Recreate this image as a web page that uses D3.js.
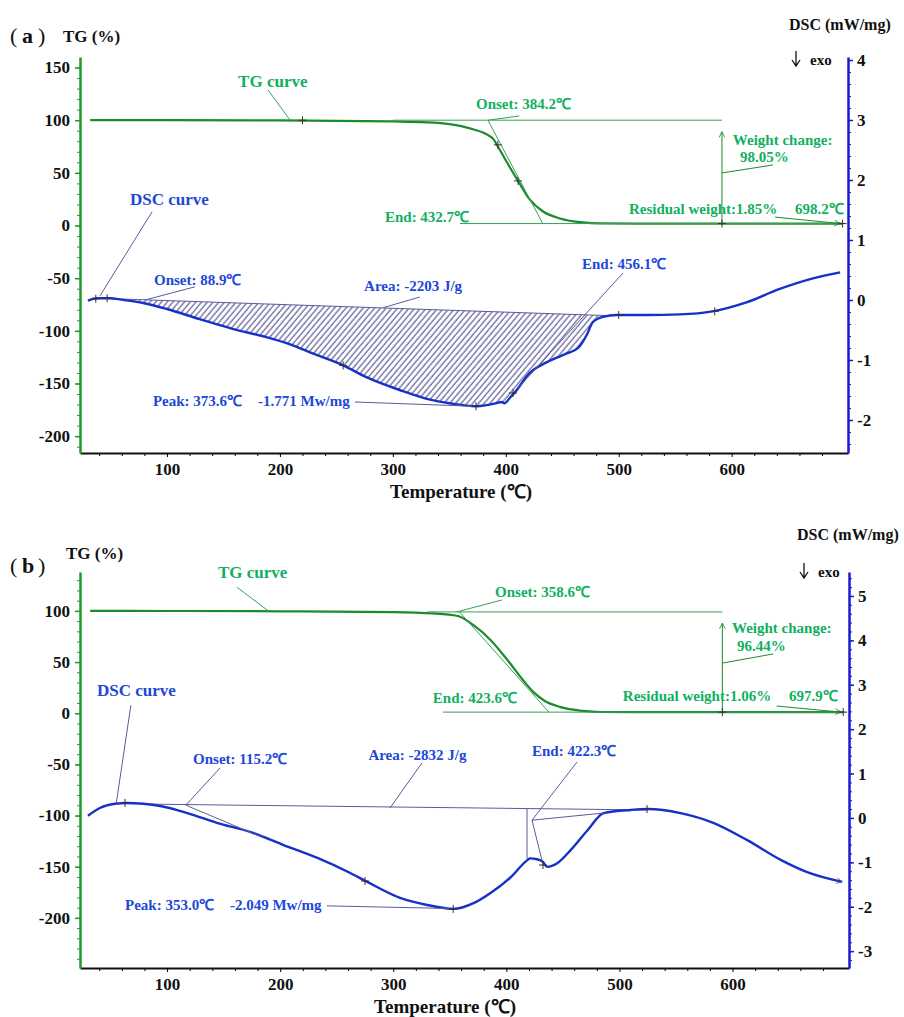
<!DOCTYPE html>
<html>
<head>
<meta charset="utf-8">
<script src="https://cdn.jsdelivr.net/npm/d3@7"></script>
<style>
  body { margin: 0; background: #fff; }
  svg text { font-family: "Liberation Serif", "Times New Roman", serif; font-weight: bold; }
</style>
</head>
<body>
<svg id="chart" width="904" height="1017"></svg>
<script>
// ---- axis ticks ----
var tempDomain = [23, 703];
var tempMajor = [100, 200, 300, 400, 500, 600];
var tgTicksA = [-200, -150, -100, -50, 0, 50, 100, 150];
var tgTicksB = [-200, -150, -100, -50, 0, 50, 100];
var dscTicksA = [-2, -1, 0, 1, 2, 3, 4];
var dscTicksB = [-3, -2, -1, 0, 1, 2, 3, 4, 5];

// ---- (a) TG, % ----
var tgA_temp = [32, 100, 200, 300, 330, 350, 371, 384, 389, 393, 401, 411, 421, 433, 448, 468, 483, 550, 650, 698];
var tgA_wt   = [100, 100, 99.8, 98.8, 98, 96.3, 91.4, 86, 82, 75, 60, 42, 25, 13.3, 6.7, 2.9, 1.95, 1.85, 1.85, 1.85];
// ---- (a) DSC, mW/mg ----
var dscA_temp = [30, 38, 50, 58, 79, 100, 129, 158, 188, 209, 229, 256, 277, 306, 335, 350, 373.6, 392, 396, 399, 404, 408, 421, 436, 454, 464, 472, 477, 486, 498, 525, 554, 583, 613, 642, 672, 696];
var dscA_val  = [-0.01, 0.03, 0.03, 0.01, -0.05, -0.15, -0.32, -0.48, -0.62, -0.74, -0.89, -1.09, -1.29, -1.50, -1.67, -1.72, -1.771, -1.72, -1.70, -1.72, -1.62, -1.54, -1.22, -1.04, -0.89, -0.80, -0.57, -0.37, -0.28, -0.25, -0.25, -0.24, -0.19, -0.04, 0.18, 0.36, 0.46];

// ---- (b) TG, % ----
var tgB_temp = [32, 100, 200, 300, 335, 357, 371, 386, 401, 415, 424, 433, 448, 468, 483, 550, 650, 698];
var tgB_wt   = [100, 99.9, 99.6, 98.8, 97.5, 95, 86, 71.6, 52, 32, 20.6, 12.7, 5.9, 2.2, 1.2, 1.06, 1.06, 1.06];
// ---- (b) DSC, mW/mg ----
var dscB_temp = [30, 41, 54, 65, 79, 94, 118, 144, 174, 203, 233, 262, 277, 306, 330, 353, 371, 386, 404, 418.6, 421, 427, 432, 436, 445, 457, 472, 486, 510, 525, 554, 583, 613, 643, 666, 697];
var dscB_val  = [0.05, 0.23, 0.32, 0.34, 0.32, 0.27, 0.11, -0.11, -0.32, -0.61, -0.90, -1.24, -1.44, -1.80, -1.96, -2.049, -1.92, -1.69, -1.33, -0.95, -0.91, -0.93, -0.98, -1.10, -1.02, -0.72, -0.27, 0.11, 0.18, 0.20, 0.11, -0.11, -0.50, -0.95, -1.22, -1.44];

var GREEN_AXIS = "#1f9a2a", GREEN_LINE = "#1d8a2c", GREEN_TXT = "#10b060", GREEN_THIN = "#3a9e5a";
var BLUE_AXIS = "#1a1ad0", BLUE_LINE = "#1630c8", BLUE_TXT = "#2048d8", BLUE_THIN = "#5a5a9c";

var svg = d3.select("#chart");
svg.append("rect").attr("width", 904).attr("height", 1017).attr("fill", "#fff");
var defs = svg.append("defs");

defs.append("pattern").attr("id", "hatch")
  .attr("patternUnits", "userSpaceOnUse")
  .attr("width", 4.4).attr("height", 10)
  .attr("patternTransform", "rotate(40)")
  .append("line").attr("x1", 1).attr("y1", 0).attr("x2", 1).attr("y2", 10)
  .attr("stroke", "#3c3c82").attr("stroke-width", 1);

function marker(id, color) {
  defs.append("marker").attr("id", id)
    .attr("viewBox", "0 0 10 10").attr("refX", 9).attr("refY", 5)
    .attr("markerWidth", 7).attr("markerHeight", 7)
    .attr("markerUnits", "userSpaceOnUse")
    .attr("orient", "auto")
    .append("path").attr("d", "M1,1 L9,5 L1,9")
    .attr("fill", "none").attr("stroke", color).attr("stroke-width", 1.2);
}
marker("arrG", GREEN_LINE);
marker("arrB", BLUE_THIN);

// plain hyphen minus like the original software
var plain = function(d) { return String(d); };

function seg(g, x1, y1, x2, y2, color, arrow) {
  var l = g.append("line").attr("x1", x1).attr("y1", y1).attr("x2", x2).attr("y2", y2)
    .attr("stroke", color).attr("stroke-width", 1);
  if (arrow) l.attr("marker-end", "url(#" + arrow + ")");
  return l;
}
function label(g, x, y, s, color, size) {
  return g.append("text").attr("x", x).attr("y", y).attr("fill", color)
    .attr("font-size", size || 15).text(s);
}
function cross(g, x, y) {
  g.append("path").attr("d", "M" + (x - 4) + "," + y + "h8M" + x + "," + (y - 4) + "v8")
    .attr("stroke", "#333").attr("stroke-width", 1);
}

function drawPanel(p) {
  var g = svg.append("g");
  var x = d3.scaleLinear().domain(tempDomain).range([80, p.right]);
  var yT = d3.scaleLinear().domain(p.tgDomain).range([p.bottom, p.top]);
  var yD = d3.scaleLinear().domain(p.dscDomain).range([p.bottom, p.top]);

  // x axis
  var minorT = d3.range(40, 701, 20).filter(function(v) { return v % 100 !== 0; });
  g.append("g").attr("transform", "translate(0," + p.bottom + ")")
    .call(d3.axisBottom(x).tickValues(minorT).tickSize(3).tickSizeOuter(0).tickFormat(""))
    .call(function(a) { a.select(".domain").remove(); });
  var xa = g.append("g").attr("transform", "translate(0," + p.bottom + ")")
    .call(d3.axisBottom(x).tickValues(tempMajor).tickSize(4).tickSizeOuter(0).tickPadding(6).tickFormat(plain));
  xa.select(".domain").attr("stroke", "#111").attr("stroke-width", 2.2);
  xa.selectAll("text").attr("font-size", 17).attr("fill", "#111");

  // left TG axis
  var minorTG = d3.range(Math.ceil(p.tgDomain[0] / 10) * 10, p.tgDomain[1], 10);
  g.append("g").attr("transform", "translate(80,0)")
    .call(d3.axisLeft(yT).tickValues(minorTG).tickSize(3).tickSizeOuter(0).tickFormat(""))
    .call(function(a) { a.select(".domain").remove(); a.selectAll("line").attr("stroke", GREEN_AXIS); });
  var la = g.append("g").attr("transform", "translate(80,0)")
    .call(d3.axisLeft(yT).tickValues(p.tgTicks).tickSize(5).tickSizeOuter(0).tickPadding(5).tickFormat(plain));
  la.select(".domain").attr("stroke", GREEN_AXIS).attr("stroke-width", 2.5);
  la.selectAll("line").attr("stroke", GREEN_AXIS).attr("stroke-width", 1.5);
  la.selectAll("text").attr("font-size", 17).attr("fill", "#111");

  // right DSC axis
  var minorD = d3.range(Math.ceil(p.dscDomain[0] * 5), p.dscDomain[1] * 5).map(function(v) { return v / 5; });
  g.append("g").attr("transform", "translate(" + p.right + ",0)")
    .call(d3.axisRight(yD).tickValues(minorD).tickSize(3).tickSizeOuter(0).tickFormat(""))
    .call(function(a) { a.select(".domain").remove(); a.selectAll("line").attr("stroke", BLUE_AXIS); });
  var ra = g.append("g").attr("transform", "translate(" + p.right + ",0)")
    .call(d3.axisRight(yD).tickValues(p.dscTicks).tickSize(5).tickSizeOuter(0).tickPadding(4).tickFormat(plain));
  ra.select(".domain").attr("stroke", BLUE_AXIS).attr("stroke-width", 2.5);
  ra.selectAll("line").attr("stroke", BLUE_AXIS).attr("stroke-width", 1.5);
  ra.selectAll("text").attr("font-size", 17).attr("fill", "#111");

  // titles
  var tag = g.append("text").attr("y", p.tagY).attr("fill", "#111").attr("font-size", 22);
  tag.append("tspan").attr("x", p.tagX).attr("font-weight", "normal").text("(");
  tag.append("tspan").attr("x", p.tagX + 12).text(p.tag);
  tag.append("tspan").attr("x", p.tagX + 28).attr("font-weight", "normal").text(")");
  label(g, p.tgTitleX, p.tgTitleY, "TG (%)", "#111", 17);
  label(g, p.dscTitleX, p.dscTitleY, "DSC (mW/mg)", "#111", 16);
  // "↓ exo" marker: drawn arrow, then the word
  var ax = p.exoX + 6, ay = p.exoY;
  g.append("path")
    .attr("d", "M" + ax + "," + (ay - 14) + "V" + (ay + 1) + "M" + (ax - 4) + "," + (ay - 5) + "L" + ax + "," + (ay + 1) + "L" + (ax + 4) + "," + (ay - 5))
    .attr("fill", "none").attr("stroke", "#111").attr("stroke-width", 1.3);
  label(g, p.exoX + 20, p.exoY, "exo", "#111", 15);
  label(g, p.xTitleX, p.bottom + 45, "Temperature (℃)", "#111", 19).attr("text-anchor", "middle");

  // hatched area (DSC peak area)
  var baseFn = function(T) {
    return p.base[1] + (T - p.base[0]) / (p.base[2] - p.base[0]) * (p.base[3] - p.base[1]);
  };
  var dscPts = d3.zip(p.dscT, p.dscV);
  if (p.hatch) {
    var inner = dscPts.filter(function(d) { return d[0] > p.base[0] && d[0] < p.base[2]; });
    var areaPts = [[p.base[0], p.base[1]]].concat(inner, [[p.base[2], p.base[3]]]);
    g.append("path").datum(areaPts)
      .attr("d", d3.area().x(function(d) { return x(d[0]); })
        .y0(function(d) { return yD(baseFn(d[0])); })
        .y1(function(d) { return yD(d[1]); })
        .curve(d3.curveMonotoneX))
      .attr("fill", "url(#hatch)");
  }
  seg(g, x(p.base[0]), yD(p.base[1]), x(p.base[2]), yD(p.base[3]), BLUE_THIN);

  // curves
  g.append("path").datum(d3.zip(p.tgT, p.tgW))
    .attr("d", d3.line().x(function(d) { return x(d[0]); }).y(function(d) { return yT(d[1]); }).curve(d3.curveMonotoneX))
    .attr("fill", "none").attr("stroke", GREEN_LINE).attr("stroke-width", 2.2);
  var dscPath = g.append("path").datum(dscPts)
    .attr("d", d3.line().x(function(d) { return x(d[0]); }).y(function(d) { return yD(d[1]); }).curve(d3.curveMonotoneX))
    .attr("fill", "none").attr("stroke", BLUE_LINE).attr("stroke-width", 2.4);
  if (p.endArrow) dscPath.attr("marker-end", "url(#arrB)");

  p.annotate(g, x, yT, yD, baseFn);
}

function annotateA(g, x, yT, yD) {
  // TG side
  label(g, x(163), yT(131.5), "TG curve", GREEN_TXT, 17);
  seg(g, x(189.5), yT(128.7), x(209), yT(100), GREEN_THIN);
  cross(g, x(220), yT(100));
  seg(g, x(300), yT(100), x(591.4), yT(100), GREEN_THIN);
  seg(g, x(384.2), yT(100), x(432.7), yT(1.85), GREEN_THIN);
  seg(g, x(359.5), yT(1.85), x(700), yT(1.85), GREEN_THIN);
  label(g, x(373.6), yT(110.6), "Onset: 384.2℃", GREEN_TXT);
  seg(g, x(384.2), yT(100), x(412), yT(104), GREEN_THIN);
  label(g, x(293), yT(3.3), "End: 432.7℃", GREEN_TXT);
  cross(g, x(393), yT(76.6));
  cross(g, x(410.8), yT(42.3));
  seg(g, x(591.4), yT(1.85), x(591.4), yT(89), GREEN_LINE, "arrG");
  label(g, x(601), yT(76.4), "Weight change:", GREEN_TXT);
  label(g, x(607.4), yT(60.3), "98.05%", GREEN_TXT);
  seg(g, x(591.4), yT(49.9), x(636.6), yT(57.5), GREEN_LINE);
  label(g, x(509), yT(10.9), "Residual weight:1.85%", GREEN_TXT);
  label(g, x(656), yT(10.9), "698.2℃", GREEN_TXT);
  seg(g, x(638.4), yT(8), x(696), yT(1.85), GREEN_LINE, "arrG");
  cross(g, x(591.4), yT(1.85));
  cross(g, x(698.2), yT(1.85));

  // DSC side
  label(g, x(67.3), yD(1.58), "DSC curve", BLUE_TXT, 17);
  seg(g, x(86.8), yD(1.47), x(40.7), yD(0.07), BLUE_THIN);
  cross(g, x(37), yD(0.02));
  cross(g, x(47), yD(0.03));
  label(g, x(88.5), yD(0.25), "Onset: 88.9℃", BLUE_TXT);
  seg(g, x(124.8), yD(0.22), x(80.6), yD(0.0), BLUE_THIN);
  label(g, x(274.5), yD(0.15), "Area: -2203 J/g", BLUE_TXT);
  seg(g, x(324), yD(0.05), x(291), yD(-0.13), BLUE_THIN);
  label(g, x(467.5), yD(0.52), "End: 456.1℃", BLUE_TXT);
  seg(g, x(503.8), yD(0.45), x(410.8), yD(-1.47), BLUE_THIN);
  cross(g, x(406.4), yD(-1.55));
  cross(g, x(256), yD(-1.09));
  cross(g, x(373.6), yD(-1.771));
  cross(g, x(500), yD(-0.25));
  cross(g, x(585), yD(-0.19));
  label(g, x(87.6), yD(-1.77), "Peak: 373.6℃", BLUE_TXT);
  label(g, x(180.6), yD(-1.77), "-1.771 Mw/mg", BLUE_TXT);
  seg(g, x(266.5), yD(-1.70), x(370), yD(-1.77), BLUE_THIN);
}

function annotateB(g, x, yT, yD, baseFn) {
  // TG side
  label(g, x(145), yT(132), "TG curve", GREEN_TXT, 17);
  seg(g, x(162), yT(123), x(189.5), yT(100), GREEN_THIN);
  seg(g, x(330), yT(99), x(591), yT(99), GREEN_THIN);
  seg(g, x(358.6), yT(99), x(437.7), yT(1.06), GREEN_THIN);
  seg(g, x(344), yT(1.06), x(699.5), yT(1.06), GREEN_THIN);
  label(g, x(390), yT(113.6), "Onset: 358.6℃", GREEN_TXT);
  seg(g, x(396), yT(110.6), x(356), yT(99), GREEN_THIN);
  label(g, x(335), yT(10), "End: 423.6℃", GREEN_TXT);
  seg(g, x(591), yT(1.06), x(591), yT(88), GREEN_LINE, "arrG");
  label(g, x(599.5), yT(78.4), "Weight change:", GREEN_TXT);
  label(g, x(604), yT(60.8), "96.44%", GREEN_TXT);
  seg(g, x(591), yT(49), x(636), yT(57.9), GREEN_LINE);
  label(g, x(503), yT(12), "Residual weight:1.06%", GREEN_TXT);
  label(g, x(650), yT(12), "697.9℃", GREEN_TXT);
  seg(g, x(639), yT(7), x(696), yT(1.06), GREEN_LINE, "arrG");
  cross(g, x(591), yT(1.06));
  cross(g, x(697.9), yT(1.06));

  // DSC side
  label(g, x(38), yD(2.75), "DSC curve", BLUE_TXT, 17);
  seg(g, x(68), yD(2.54), x(55), yD(0.32), BLUE_THIN);
  cross(g, x(62.8), yD(0.34));
  label(g, x(123), yD(1.22), "Onset: 115.2℃", BLUE_TXT);
  seg(g, x(147), yD(1.13), x(117), yD(0.30), BLUE_THIN);
  seg(g, x(116.4), yD(0.29), x(185.3), yD(-0.45), BLUE_THIN);
  seg(g, x(418.3), yD(baseFn(418.3)), x(418.3), yD(-0.92), BLUE_THIN);
  label(g, x(278), yD(1.31), "Area: -2832 J/g", BLUE_TXT);
  seg(g, x(325.4), yD(1.24), x(297), yD(0.22), BLUE_THIN);
  label(g, x(422.7), yD(1.4), "End: 422.3℃", BLUE_TXT);
  seg(g, x(462.5), yD(1.26), x(422.7), yD(-0.05), BLUE_THIN);
  seg(g, x(422.7), yD(-0.05), x(485.8), yD(0.11), BLUE_THIN);
  seg(g, x(422.7), yD(-0.05), x(432.7), yD(-1.08), BLUE_THIN);
  cross(g, x(275), yD(-1.42));
  cross(g, x(353), yD(-2.049));
  cross(g, x(432.4), yD(-1.06));
  cross(g, x(524.4), yD(0.2));
  label(g, x(62.8), yD(-2.07), "Peak: 353.0℃", BLUE_TXT);
  label(g, x(155.6), yD(-2.07), "-2.049 Mw/mg", BLUE_TXT);
  seg(g, x(241.4), yD(-1.98), x(350), yD(-2.04), BLUE_THIN);
}

drawPanel({
  tag: "a", top: 57, bottom: 453, right: 848,
  tgDomain: [-216, 160], dscDomain: [-2.55, 4.05],
  tgTicks: tgTicksA, dscTicks: dscTicksA,
  tgT: tgA_temp, tgW: tgA_wt, dscT: dscA_temp, dscV: dscA_val,
  base: [38, 0.03, 490, -0.26], hatch: true, endArrow: false,
  tagX: 10, tagY: 43, tgTitleX: 63, tgTitleY: 42,
  dscTitleX: 789, dscTitleY: 30, exoX: 790, exoY: 65, xTitleX: 461,
  annotate: annotateA
});

drawPanel({
  tag: "b", top: 572, bottom: 968, right: 849,
  tgDomain: [-249, 138], dscDomain: [-3.38, 5.54],
  tgTicks: tgTicksB, dscTicks: dscTicksB,
  tgT: tgB_temp, tgW: tgB_wt, dscT: dscB_temp, dscV: dscB_val,
  base: [54, 0.32, 525, 0.18], hatch: false, endArrow: true,
  tagX: 10, tagY: 573, tgTitleX: 66, tgTitleY: 559,
  dscTitleX: 797, dscTitleY: 540, exoX: 798, exoY: 577, xTitleX: 445,
  annotate: annotateB
});
</script>
</body>
</html>
